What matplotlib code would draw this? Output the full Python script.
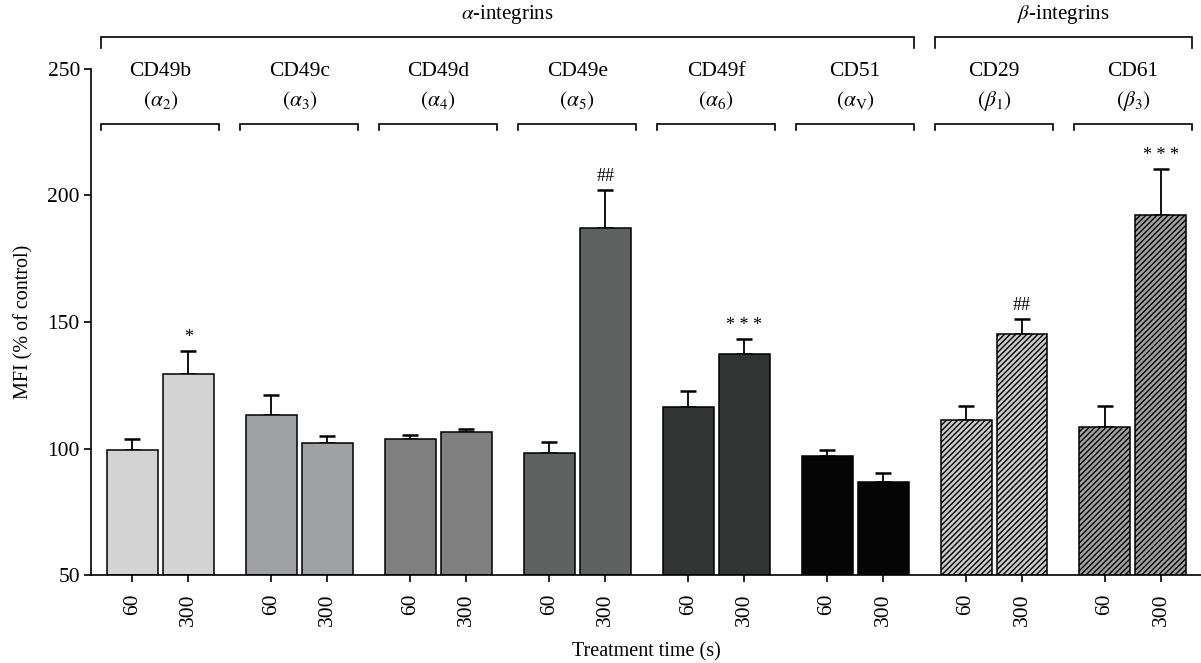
import numpy as np
import matplotlib
matplotlib.use("Agg")
from matplotlib import pyplot as plt

plt.rcParams['font.family'] = ['Liberation Serif', 'DejaVu Serif']
plt.rcParams['mathtext.fontset'] = 'stix'
plt.rcParams['hatch.linewidth'] = 1.0

# data
markers = ['CD49b', 'CD49c', 'CD49d', 'CD49e', 'CD49f', 'CD51', 'CD29', 'CD61']
subunits = [r'$(\alpha_2)$', r'$(\alpha_3)$', r'$(\alpha_4)$', r'$(\alpha_5)$',
            r'$(\alpha_6)$', r'$(\alpha_{\rm V})$', r'$(\beta_1)$', r'$(\beta_3)$']
times = ['60', '300']
mfi_60 = [99.6, 113.1, 103.8, 98.3, 116.4, 97.2, 111.2, 108.5]
mfi_300 = [129.3, 102.0, 106.6, 187.0, 137.4, 86.9, 145.3, 192.3]
err_60 = [4.0, 7.9, 1.7, 4.3, 6.3, 2.3, 5.5, 8.2]
err_300 = [9.2, 2.8, 1.1, 15.0, 6.0, 3.5, 5.9, 18.2]
signif_300 = ['*', '', '', '##', '* * *', '', '##', '* * *']
colors = ['#d3d3d3', '#a0a1a5', '#808080', '#5f6160', '#323333', '#050505',
          '#cbcbcb', '#a2a2a2']
hatches = [None, None, None, None, None, None, '//////', '//////']

fig = plt.figure(figsize=(12.01, 6.63), dpi=100)
ax = fig.add_axes([91 / 1201, 1 - 575 / 663, 1 - 91 / 1201, (575 - 69) / 663])

x = np.arange(len(markers))
off = 0.2015
w = 0.367
ekw = dict(elinewidth=1.3, capthick=1.8, ecolor='black')

for i in range(len(markers)):
    for dx, val, err in [(-off, mfi_60[i], err_60[i]), (off, mfi_300[i], err_300[i])]:
        ax.bar(x[i] + dx, val - 50, bottom=50, width=w, color=colors[i],
               edgecolor='black', linewidth=1.1, hatch=hatches[i], zorder=2)
        ax.errorbar(x[i] + dx, val, yerr=[[0], [err]], fmt='none', capsize=6,
                    zorder=1, **ekw)
    if signif_300[i]:
        ax.text(x[i] + off, mfi_300[i] + err_300[i] + 2, signif_300[i],
                ha='center', va='bottom', fontsize=13)

ax.set_xlim(-0.5, 7.49)
ax.set_ylim(50, 250)
ax.set_yticks([50, 100, 150, 200, 250])
ax.set_xticks(np.concatenate([x - off, x + off]))
ax.set_xticklabels(times[:1] * len(x) + times[1:] * len(x), rotation=90)
ax.tick_params(axis='both', labelsize=15.5, direction='out', width=1.2)
ax.tick_params(axis='x', length=5, pad=8)
ax.tick_params(axis='y', length=5, pad=3)
for s in ['top', 'right']:
    ax.spines[s].set_visible(False)
for s in ['left', 'bottom']:
    ax.spines[s].set_linewidth(1.2)

ax.set_ylabel('MFI (% of control)', fontsize=14.5, labelpad=10)
ax.set_xlabel('Treatment time (s)', fontsize=14.5, labelpad=12)


def bracket(x0, x1, y, drop):
    ax.plot([x0, x0, x1, x1], [y - drop, y, y, y - drop], color='black',
            lw=1.2, clip_on=False, solid_joinstyle='miter')


half = 59 / 139
for i in range(len(markers)):
    bracket(x[i] - half, x[i] + half, 228.3, 2.4)
    ax.text(x[i], 249, markers[i], ha='center', va='center', fontsize=15.5)
    ax.text(x[i], 237.5, subunits[i], ha='center', va='center', fontsize=15.5)

bracket(x[0] - half, x[5] + half, 262.6, 4.3)
bracket(x[6] - half, x[7] + half, 262.6, 4.3)
ax.text((x[0] + x[5]) / 2, 271.5, r'$\alpha$-integrins', ha='center', va='center',
        fontsize=15, clip_on=False)
ax.text((x[6] + x[7]) / 2, 271.5, r'$\beta$-integrins', ha='center', va='center',
        fontsize=15, clip_on=False)

fig.savefig('out.png', dpi=100)
